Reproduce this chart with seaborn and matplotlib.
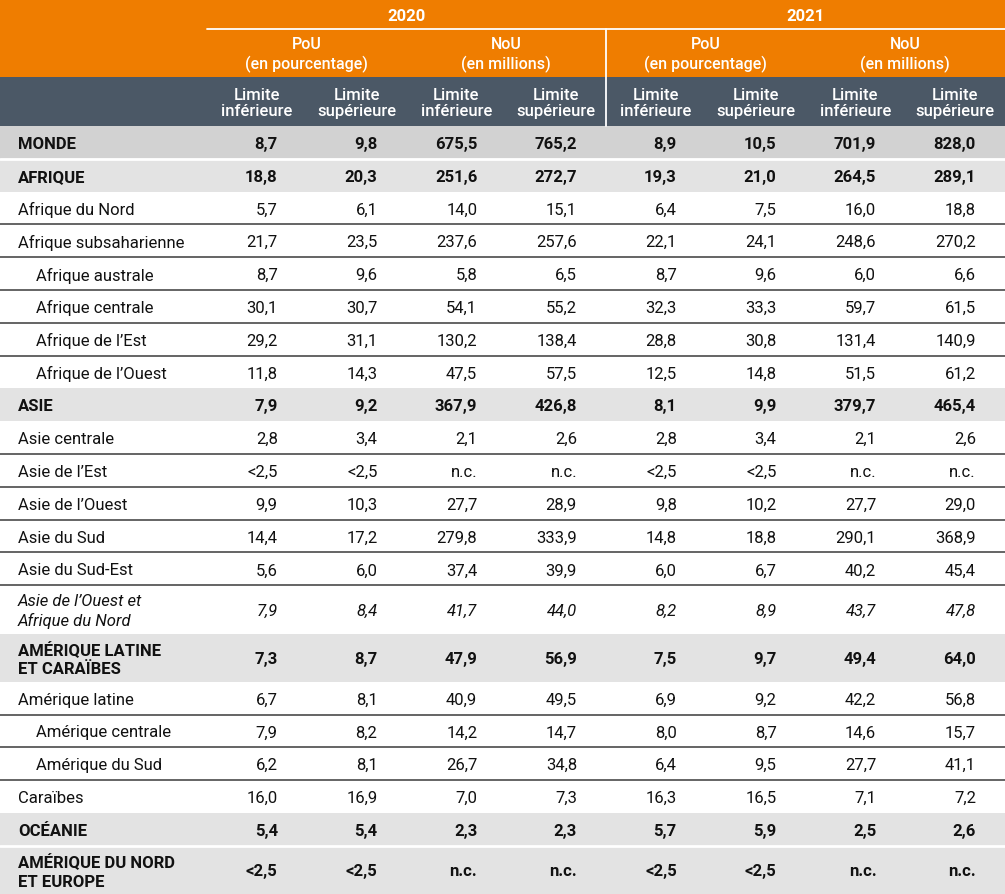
import numpy as np
import matplotlib.pyplot as plt
import seaborn as sns

# ---- data ----
regions = [
    "MONDE", "AFRIQUE", "Afrique du Nord", "Afrique subsaharienne",
    "Afrique australe", "Afrique centrale", "Afrique de l’Est", "Afrique de l’Ouest",
    "ASIE", "Asie centrale", "Asie de l’Est", "Asie de l’Ouest", "Asie du Sud",
    "Asie du Sud-Est", "Asie de l’Ouest et\nAfrique du Nord",
    "AMÉRIQUE LATINE\nET CARAÏBES", "Amérique latine", "Amérique centrale",
    "Amérique du Sud", "Caraïbes", "OCÉANIE", "AMÉRIQUE DU NORD\nET EUROPE",
]
# 0 = world, 1 = continent, 2 = sub-region, 3 = indented sub-region, 4 = italic aggregate
levels = [0, 1, 2, 2, 3, 3, 3, 3, 1, 2, 2, 2, 2, 2, 4, 1, 2, 3, 3, 2, 1, 1]

pou_2020_low = ["8,7", "18,8", "5,7", "21,7", "8,7", "30,1", "29,2", "11,8", "7,9", "2,8", "<2,5",
                "9,9", "14,4", "5,6", "7,9", "7,3", "6,7", "7,9", "6,2", "16,0", "5,4", "<2,5"]
pou_2020_high = ["9,8", "20,3", "6,1", "23,5", "9,6", "30,7", "31,1", "14,3", "9,2", "3,4", "<2,5",
                 "10,3", "17,2", "6,0", "8,4", "8,7", "8,1", "8,2", "8,1", "16,9", "5,4", "<2,5"]
nou_2020_low = ["675,5", "251,6", "14,0", "237,6", "5,8", "54,1", "130,2", "47,5", "367,9", "2,1", "n.c.",
                "27,7", "279,8", "37,4", "41,7", "47,9", "40,9", "14,2", "26,7", "7,0", "2,3", "n.c."]
nou_2020_high = ["765,2", "272,7", "15,1", "257,6", "6,5", "55,2", "138,4", "57,5", "426,8", "2,6", "n.c.",
                 "28,9", "333,9", "39,9", "44,0", "56,9", "49,5", "14,7", "34,8", "7,3", "2,3", "n.c."]
pou_2021_low = ["8,9", "19,3", "6,4", "22,1", "8,7", "32,3", "28,8", "12,5", "8,1", "2,8", "<2,5",
                "9,8", "14,8", "6,0", "8,2", "7,5", "6,9", "8,0", "6,4", "16,3", "5,7", "<2,5"]
pou_2021_high = ["10,5", "21,0", "7,5", "24,1", "9,6", "33,3", "30,8", "14,8", "9,9", "3,4", "<2,5",
                 "10,2", "18,8", "6,7", "8,9", "9,7", "9,2", "8,7", "9,5", "16,5", "5,9", "<2,5"]
nou_2021_low = ["701,9", "264,5", "16,0", "248,6", "6,0", "59,7", "131,4", "51,5", "379,7", "2,1", "n.c.",
                "27,7", "290,1", "40,2", "43,7", "49,4", "42,2", "14,6", "27,7", "7,1", "2,5", "n.c."]
nou_2021_high = ["828,0", "289,1", "18,8", "270,2", "6,6", "61,5", "140,9", "61,2", "465,4", "2,6", "n.c.",
                 "29,0", "368,9", "45,4", "47,8", "64,0", "56,8", "15,7", "41,1", "7,2", "2,6", "n.c."]

years = ["2020", "2021"]
measures = ["PoU\n(en pourcentage)", "NoU\n(en millions)"]
bounds = ["Limite\ninférieure", "Limite\nsupérieure"]

columns = [pou_2020_low, pou_2020_high, nou_2020_low, nou_2020_high,
           pou_2021_low, pou_2021_high, nou_2021_low, nou_2021_high]

# ---- style ----
sns.set_theme(style="white")
plt.rcParams['font.family'] = ['Roboto', 'DejaVu Sans']

ORANGE = "#ef7d00"
SLATE = "#4b5866"
GREY_WORLD = "#d2d2d2"
GREY_CONT = "#e3e3e3"
LINE = "#3a3a3a"
FS = 12

W, H = 1005, 895
fig = plt.figure(figsize=(W / 100, H / 100), dpi=100)
ax = fig.add_axes([0, 0, 1, 1])
ax.set_xlim(0, W)
ax.set_ylim(H, 0)
ax.axis("off")

label_w = 207
col_w = (W - label_w) / len(columns)
col_left = label_w + np.arange(len(columns)) * col_w

# header bands
h1, h2, h3 = 30, 48, 49
ax.barh(0, W, height=h1, left=0, align="edge", color=ORANGE, linewidth=0)
ax.barh(h1, W, height=h2, left=0, align="edge", color=ORANGE, linewidth=0)
ax.barh(h1 + h2, W, height=h3, left=0, align="edge", color=SLATE, linewidth=0)
ax.plot([label_w, W], [h1, h1], color="white", lw=1.3)
ax.plot([label_w + 4 * col_w] * 2, [h1, h1 + h2 + h3], color="white", lw=1.3)

for i, y in enumerate(years):
    cx = label_w + (i * 4 + 2) * col_w
    ax.text(cx, h1 / 2 + 1, y, color="white", ha="center", va="center",
            fontsize=FS, fontweight="bold")
for i in range(4):
    cx = label_w + (i * 2 + 1) * col_w
    ax.text(cx, h1 + h2 / 2 + 1, measures[i % 2], color="white", ha="center", va="center",
            fontsize=11.5, fontweight="medium", linespacing=1.25)
for i in range(len(columns)):
    cx = col_left[i] + col_w / 2
    ax.text(cx, h1 + h2 + h3 / 2 + 1, bounds[i % 2], color="white", ha="center", va="center",
            fontsize=FS, fontweight="medium", linespacing=1.15)

# body rows
top = h1 + h2 + h3
n_lines = np.array([r.count("\n") + 1 for r in regions])
rel = np.where(n_lines > 1, 1.47, 1.0)
unit = (H - top) / rel.sum()
heights = rel * unit
starts = top + np.concatenate([[0], np.cumsum(heights)[:-1]])

for i, (name, lvl) in enumerate(zip(regions, levels)):
    y0, h = starts[i], heights[i]
    yc = y0 + h / 2
    if lvl == 0:
        ax.barh(y0, W, height=h, left=0, align="edge", color=GREY_WORLD, linewidth=0)
    elif lvl == 1:
        ax.barh(y0, W, height=h, left=0, align="edge", color=GREY_CONT, linewidth=0)
    bold = lvl in (0, 1)
    style = "italic" if lvl == 4 else "normal"
    weight = "bold" if bold else "normal"
    x_lab = 36 if lvl == 3 else 18
    ax.text(x_lab, yc + 1, name, ha="left", va="center", fontsize=FS,
            fontweight=weight, fontstyle=style, color="#111111", linespacing=1.3)
    for j, col in enumerate(columns):
        ax.text(col_left[j] + col_w - 29, yc + 1, col[i], ha="right", va="center",
                fontsize=FS, fontweight=weight, fontstyle=style, color="#111111")

# separators between rows
for i in range(len(regions) - 1):
    y = starts[i + 1]
    a, b = levels[i] in (0, 1), levels[i + 1] in (0, 1)
    if a and b:
        ax.plot([0, W], [y, y], color="white", lw=2)
    elif not a and not b:
        ax.plot([0, W], [y, y], color=LINE, lw=1.1)

fig.savefig("out.png", dpi=100)
